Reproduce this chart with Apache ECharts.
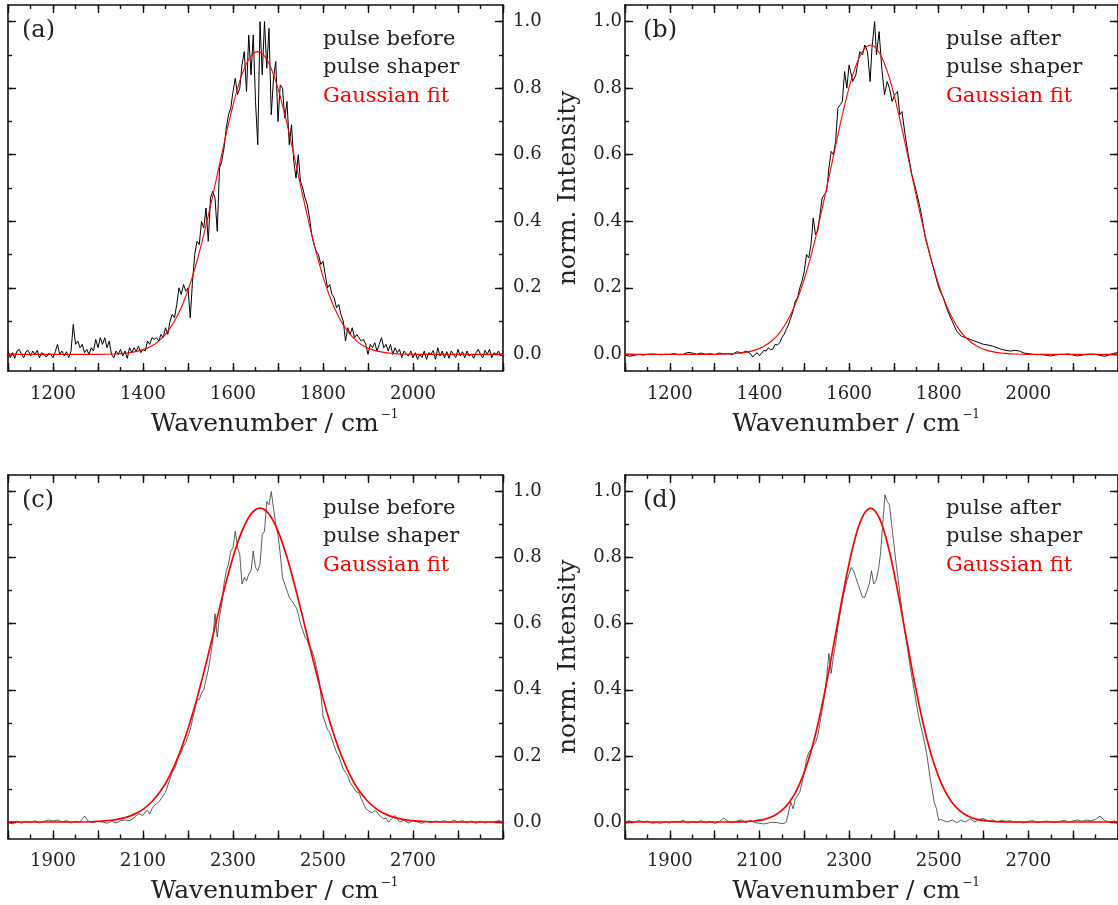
<!DOCTYPE html>
<html><head><meta charset="utf-8">
<script src="https://cdn.jsdelivr.net/npm/echarts@6/dist/echarts.min.js"></script>
<style>html,body{margin:0;padding:0;background:#fff}#c{width:1118px;height:905px}</style>
</head><body><div id="c"></div>
<script>
// ---------- data ----------
const blackA = [[1100,0.01],[1105,-0.01],[1110,0.005],[1115,-0.012],[1120,0.01],[1125,0.015],[1130,0.0],[1135,-0.01],[1140,0.008],[1145,0.012],[1150,-0.005],[1155,0.01],[1160,0.0],[1165,0.012],[1170,-0.01],[1175,0.005],[1180,0.0],[1185,-0.008],[1190,0.003],[1195,0.0],[1200,-0.01],[1205,0.008],[1210,0.03],[1215,0.0],[1220,0.01],[1225,-0.005],[1230,0.008],[1235,-0.01],[1240,0.01],[1245,0.09],[1250,0.03],[1255,0.04],[1260,0.02],[1265,0.03],[1270,0.005],[1275,0.015],[1280,0.0],[1285,0.02],[1290,0.01],[1295,0.045],[1300,0.02],[1305,0.05],[1310,0.03],[1315,0.05],[1320,0.02],[1325,0.04],[1330,0.0],[1335,-0.01],[1340,0.01],[1345,0.0],[1350,0.015],[1355,-0.005],[1360,0.01],[1365,-0.012],[1370,0.02],[1375,0.005],[1380,0.02],[1385,0.01],[1390,0.025],[1395,0.005],[1400,0.015],[1405,0.01],[1410,0.04],[1415,0.03],[1420,0.05],[1425,0.045],[1430,0.05],[1435,0.04],[1440,0.06],[1445,0.05],[1450,0.08],[1455,0.06],[1460,0.1],[1465,0.12],[1470,0.11],[1475,0.15],[1480,0.2],[1485,0.18],[1490,0.21],[1495,0.19],[1500,0.2],[1505,0.11],[1510,0.22],[1515,0.3],[1520,0.34],[1525,0.33],[1530,0.4],[1535,0.38],[1540,0.44],[1545,0.34],[1550,0.47],[1555,0.49],[1560,0.47],[1565,0.37],[1570,0.56],[1575,0.58],[1580,0.62],[1585,0.68],[1590,0.72],[1595,0.74],[1600,0.79],[1605,0.83],[1610,0.78],[1615,0.8],[1620,0.87],[1625,0.91],[1630,0.79],[1635,0.96],[1640,0.84],[1645,0.96],[1650,0.76],[1655,0.63],[1660,1.0],[1665,0.84],[1670,1.0],[1675,0.86],[1680,0.98],[1685,0.72],[1690,0.83],[1695,0.88],[1700,0.7],[1705,0.81],[1710,0.8],[1715,0.71],[1720,0.76],[1725,0.63],[1730,0.69],[1735,0.58],[1740,0.53],[1745,0.6],[1750,0.52],[1755,0.5],[1760,0.47],[1765,0.45],[1770,0.41],[1775,0.36],[1780,0.33],[1785,0.31],[1790,0.3],[1795,0.27],[1800,0.28],[1805,0.24],[1810,0.2],[1815,0.21],[1820,0.18],[1825,0.17],[1830,0.14],[1835,0.15],[1840,0.12],[1845,0.1],[1850,0.04],[1855,0.08],[1860,0.06],[1865,0.08],[1870,0.05],[1875,0.06],[1880,0.05],[1885,0.04],[1890,0.045],[1895,0.03],[1900,0.0],[1905,0.03],[1910,0.02],[1915,0.035],[1920,0.01],[1925,0.03],[1930,0.05],[1935,0.02],[1940,0.03],[1945,0.01],[1950,0.03],[1955,0.0],[1960,0.02],[1965,0.005],[1970,0.015],[1975,-0.01],[1980,0.01],[1985,0.0],[1990,-0.005],[1995,0.01],[2000,-0.01],[2005,0.005],[2010,-0.015],[2015,0.0],[2020,-0.01],[2025,0.01],[2030,-0.015],[2035,0.005],[2040,0.0],[2045,0.012],[2050,-0.015],[2055,0.02],[2060,-0.005],[2065,0.01],[2070,-0.01],[2075,0.008],[2080,-0.012],[2085,0.01],[2090,0.0],[2095,-0.01],[2100,0.015],[2105,-0.005],[2110,0.008],[2115,-0.01],[2120,0.01],[2125,-0.005],[2130,0.0],[2135,-0.012],[2140,0.005],[2145,0.015],[2150,0.0],[2155,-0.01],[2160,0.012],[2165,0.0],[2170,0.015],[2175,-0.01],[2180,0.005],[2185,0.0],[2190,0.01],[2195,-0.005],[2200,0.005]];
const redA = [[1100,0],[1300,0],[1335,0.001],[1355,0.003],[1375,0.006],[1395,0.012],[1415,0.022],[1435,0.040],[1455,0.069],[1475,0.112],[1495,0.174],[1515,0.257],[1535,0.359],[1555,0.477],[1575,0.602],[1595,0.721],[1615,0.821],[1635,0.887],[1655,0.91],[1675,0.887],[1695,0.821],[1715,0.721],[1735,0.602],[1755,0.477],[1775,0.359],[1795,0.257],[1815,0.174],[1835,0.112],[1855,0.069],[1875,0.040],[1895,0.022],[1915,0.012],[1935,0.006],[1955,0.003],[1975,0.001],[2010,0],[2200,0]];

const blackB = [[1100,-0.002],[1110,-0.006],[1120,-0.003],[1130,0.0],[1140,-0.002],[1150,0.0],[1160,0.001],[1170,0.0],[1180,-0.001],[1190,0.0],[1200,0.0],[1210,0.002],[1220,-0.001],[1230,0.0],[1240,0.006],[1250,0.004],[1260,0.0],[1270,0.004],[1280,0.0],[1290,0.002],[1300,-0.001],[1310,0.004],[1320,0.001],[1330,0.002],[1340,0.0],[1350,0.008],[1360,0.004],[1370,0.01],[1380,0.002],[1385,-0.008],[1390,0.0],[1395,0.005],[1400,-0.004],[1405,0.004],[1410,0.012],[1415,0.01],[1420,0.02],[1425,0.014],[1430,0.016],[1435,0.03],[1440,0.028],[1445,0.035],[1450,0.05],[1455,0.06],[1460,0.075],[1465,0.09],[1470,0.11],[1475,0.13],[1480,0.16],[1485,0.17],[1490,0.2],[1495,0.22],[1500,0.25],[1505,0.3],[1510,0.29],[1515,0.33],[1520,0.41],[1525,0.36],[1530,0.37],[1535,0.42],[1540,0.47],[1545,0.48],[1550,0.49],[1555,0.56],[1560,0.61],[1565,0.6],[1570,0.64],[1575,0.74],[1580,0.75],[1585,0.76],[1590,0.85],[1595,0.8],[1600,0.87],[1605,0.84],[1608,0.82],[1615,0.84],[1620,0.88],[1624,0.91],[1630,0.9],[1635,0.93],[1641,0.91],[1647,0.82],[1651,0.92],[1657,1.0],[1661,0.9],[1667,0.97],[1673,0.86],[1679,0.78],[1685,0.82],[1690,0.8],[1696,0.76],[1702,0.78],[1708,0.79],[1713,0.72],[1718,0.73],[1725,0.66],[1732,0.6],[1740,0.54],[1750,0.49],[1760,0.43],[1770,0.35],[1780,0.3],[1790,0.25],[1800,0.2],[1810,0.17],[1820,0.13],[1830,0.1],[1840,0.07],[1850,0.055],[1860,0.05],[1870,0.045],[1880,0.04],[1890,0.035],[1900,0.03],[1910,0.028],[1920,0.025],[1930,0.02],[1940,0.015],[1950,0.012],[1960,0.01],[1970,0.012],[1980,0.01],[1990,0.004],[2000,0.002],[2010,0.0],[2020,-0.001],[2030,0.0],[2040,-0.003],[2050,-0.005],[2060,-0.002],[2070,0.0],[2080,0.0],[2090,0.001],[2100,-0.002],[2110,-0.005],[2120,-0.002],[2130,0.0],[2140,0.001],[2150,0.0],[2160,-0.003],[2170,-0.006],[2180,-0.002],[2190,0.003],[2200,0.005]];
const redB = [[1100,0],[1300,0],[1328,0.001],[1348,0.003],[1368,0.006],[1388,0.012],[1408,0.023],[1428,0.041],[1448,0.070],[1468,0.115],[1488,0.178],[1508,0.262],[1528,0.367],[1548,0.488],[1568,0.615],[1588,0.737],[1608,0.839],[1628,0.906],[1648,0.93],[1668,0.906],[1688,0.839],[1708,0.737],[1728,0.615],[1748,0.488],[1768,0.367],[1788,0.262],[1808,0.178],[1828,0.115],[1848,0.070],[1868,0.041],[1888,0.023],[1908,0.012],[1928,0.006],[1948,0.003],[1968,0.001],[2000,0],[2200,0]];

const blackC = [[1800,0.0],[1810,-0.006],[1820,0.003],[1830,-0.004],[1840,0.002],[1850,-0.002],[1860,0.004],[1870,-0.003],[1880,0.002],[1890,0.006],[1900,0.003],[1910,0.006],[1920,0.0],[1930,0.004],[1940,-0.003],[1950,0.002],[1960,0.0],[1970,0.018],[1980,0.0],[1990,-0.002],[2000,0.002],[2010,0.0],[2020,-0.004],[2030,0.002],[2040,-0.003],[2050,0.004],[2060,0.006],[2070,0.004],[2080,0.012],[2090,0.025],[2100,0.02],[2105,0.03],[2110,0.035],[2115,0.025],[2120,0.04],[2125,0.05],[2130,0.055],[2135,0.06],[2140,0.07],[2145,0.08],[2150,0.09],[2155,0.11],[2160,0.13],[2165,0.15],[2170,0.16],[2175,0.18],[2180,0.2],[2185,0.21],[2190,0.23],[2195,0.24],[2200,0.26],[2205,0.28],[2210,0.31],[2215,0.34],[2220,0.37],[2225,0.37],[2230,0.39],[2235,0.4],[2240,0.43],[2245,0.46],[2250,0.5],[2255,0.55],[2260,0.63],[2265,0.56],[2270,0.62],[2275,0.66],[2280,0.72],[2285,0.76],[2290,0.78],[2295,0.82],[2300,0.83],[2305,0.88],[2310,0.83],[2315,0.81],[2320,0.72],[2325,0.74],[2330,0.73],[2335,0.75],[2340,0.76],[2345,0.82],[2350,0.77],[2355,0.76],[2360,0.78],[2365,0.87],[2370,0.88],[2375,0.97],[2380,0.96],[2385,1.0],[2390,0.95],[2395,0.9],[2400,0.87],[2405,0.81],[2410,0.74],[2415,0.72],[2420,0.7],[2425,0.68],[2430,0.67],[2435,0.66],[2440,0.65],[2445,0.63],[2450,0.6],[2455,0.58],[2460,0.56],[2465,0.55],[2470,0.53],[2475,0.52],[2480,0.5],[2485,0.47],[2490,0.44],[2495,0.39],[2500,0.32],[2505,0.3],[2510,0.28],[2515,0.27],[2520,0.25],[2525,0.23],[2530,0.21],[2535,0.2],[2540,0.18],[2545,0.16],[2550,0.15],[2555,0.14],[2560,0.12],[2565,0.11],[2570,0.1],[2575,0.09],[2580,0.09],[2585,0.07],[2590,0.055],[2595,0.04],[2600,0.035],[2605,0.03],[2610,0.028],[2615,0.035],[2620,0.03],[2625,0.02],[2630,0.015],[2635,0.01],[2640,0.012],[2645,0.0],[2650,0.005],[2660,0.02],[2670,0.0],[2680,0.005],[2690,-0.003],[2700,0.004],[2710,0.0],[2720,-0.004],[2730,0.002],[2740,-0.002],[2750,0.003],[2760,0.0],[2770,0.004],[2780,-0.002],[2790,0.005],[2800,0.0],[2810,0.004],[2820,-0.003],[2830,0.003],[2840,-0.004],[2850,0.002],[2860,-0.003],[2870,0.0],[2880,-0.002],[2890,0.005],[2900,0.0]];
const redC = [[1800,0],[1960,0],[2000,0.002],[2020,0.004],[2040,0.007],[2060,0.013],[2080,0.023],[2100,0.038],[2120,0.062],[2140,0.095],[2160,0.142],[2180,0.204],[2200,0.282],[2220,0.374],[2240,0.479],[2260,0.591],[2280,0.701],[2300,0.801],[2320,0.880],[2340,0.932],[2360,0.95],[2380,0.932],[2400,0.880],[2420,0.801],[2440,0.701],[2460,0.591],[2480,0.479],[2500,0.374],[2520,0.282],[2540,0.204],[2560,0.142],[2580,0.095],[2600,0.062],[2620,0.038],[2640,0.023],[2660,0.013],[2680,0.007],[2700,0.004],[2720,0.002],[2760,0],[2900,0]];

const blackD = [[1800,0.0],[1810,0.004],[1820,-0.003],[1830,0.005],[1840,0.0],[1850,0.003],[1860,-0.004],[1870,-0.002],[1880,-0.004],[1890,0.0],[1900,-0.003],[1910,0.002],[1920,0.0],[1930,0.005],[1940,-0.003],[1950,0.0],[1960,-0.002],[1970,0.004],[1980,-0.003],[1990,0.002],[2000,-0.004],[2010,0.0],[2020,0.012],[2030,0.002],[2040,-0.002],[2050,0.003],[2060,0.006],[2070,-0.002],[2080,0.005],[2090,-0.002],[2100,-0.004],[2110,-0.006],[2120,-0.003],[2130,-0.001],[2140,-0.002],[2150,-0.005],[2155,-0.004],[2160,0.0],[2165,0.03],[2170,0.06],[2175,0.04],[2180,0.07],[2185,0.08],[2190,0.09],[2195,0.12],[2200,0.15],[2205,0.19],[2210,0.21],[2215,0.22],[2220,0.23],[2225,0.24],[2230,0.26],[2235,0.3],[2240,0.34],[2245,0.38],[2250,0.44],[2255,0.51],[2260,0.45],[2265,0.5],[2270,0.54],[2275,0.59],[2280,0.63],[2285,0.67],[2290,0.7],[2295,0.73],[2300,0.75],[2305,0.77],[2310,0.76],[2315,0.74],[2320,0.72],[2325,0.7],[2330,0.68],[2335,0.68],[2340,0.7],[2345,0.72],[2350,0.76],[2355,0.72],[2360,0.73],[2365,0.76],[2370,0.81],[2375,0.9],[2380,0.99],[2385,0.97],[2390,0.96],[2395,0.9],[2400,0.84],[2405,0.78],[2410,0.73],[2415,0.67],[2420,0.62],[2425,0.57],[2430,0.53],[2435,0.48],[2440,0.44],[2445,0.4],[2450,0.36],[2455,0.32],[2460,0.29],[2465,0.26],[2470,0.23],[2475,0.19],[2480,0.14],[2485,0.1],[2490,0.06],[2495,0.04],[2500,0.005],[2505,0.008],[2510,0.004],[2520,0.0],[2530,0.006],[2540,-0.002],[2550,0.005],[2560,0.0],[2570,0.01],[2580,0.0],[2590,0.008],[2600,0.01],[2610,0.004],[2620,0.006],[2630,0.0],[2640,0.005],[2650,0.002],[2660,0.004],[2670,-0.002],[2680,0.0],[2690,-0.003],[2700,0.002],[2710,0.004],[2720,-0.002],[2730,0.0],[2740,0.003],[2750,0.0],[2760,-0.002],[2770,0.002],[2780,0.005],[2790,0.0],[2800,0.003],[2810,0.006],[2820,0.002],[2830,0.006],[2840,0.003],[2850,0.008],[2860,0.018],[2870,0.004],[2880,0.0],[2890,0.003],[2900,0.0]];
const redD = [[1800,0],[2048,0],[2068,0.001],[2088,0.003],[2108,0.007],[2128,0.016],[2148,0.033],[2168,0.062],[2188,0.110],[2208,0.182],[2228,0.282],[2248,0.409],[2268,0.554],[2288,0.701],[2308,0.830],[2328,0.918],[2348,0.95],[2368,0.918],[2388,0.830],[2408,0.701],[2428,0.554],[2448,0.409],[2468,0.282],[2488,0.182],[2508,0.110],[2528,0.062],[2548,0.033],[2568,0.016],[2588,0.007],[2608,0.003],[2628,0.001],[2648,0],[2900,0]];

// tick / label values
const xMajorTop = [1100,1200,1300,1400,1500,1600,1700,1800,1900,2000,2100,2200];
const xMinorTop = [1100,1150,1200,1250,1300,1350,1400,1450,1500,1550,1600,1650,1700,1750,1800,1850,1900,1950,2000,2050,2100,2150,2200];
const xLabelsTop = [1200,1400,1600,1800,2000];
const xMajorBot = [1800,1900,2000,2100,2200,2300,2400,2500,2600,2700,2800,2900];
const xMinorBot = [1800,1850,1900,1950,2000,2050,2100,2150,2200,2250,2300,2350,2400,2450,2500,2550,2600,2650,2700,2750,2800,2850,2900];
const xLabelsBot = [1900,2100,2300,2500,2700];
const yMajor = [0,0.2,0.4,0.6,0.8,1.0];
const yMinor = [0,0.1,0.2,0.3,0.4,0.5,0.6,0.7,0.8,0.9,1.0];
const yLabels = [0,0.2,0.4,0.6,0.8,1.0];

// ---------- chart ----------
const FONT = 'DejaVu Serif';
const TXT = '#222';
const panels = [
  {grid:{left:8,top:5,width:495,height:366}, black:blackA, red:redA, bName:'pulse before\npulse shaper', xmin:1100, xmax:2200,
   xMaj:xMajorTop, xMin:xMinorTop, xLab:xLabelsTop, ySide:'right', tag:'(a)', tagPos:[22,19], legPos:[318,25], namePad:[0,0,0,38], bW:1, bC:'#000', rW:1.1},
  {grid:{left:625,top:5,width:495,height:366}, black:blackB, red:redB, bName:'pulse after\npulse shaper', xmin:1100, xmax:2200,
   xMaj:xMajorTop, xMin:xMinorTop, xLab:xLabelsTop, ySide:'left', tag:'(b)', tagPos:[643,19], legPos:[941,25], namePad:[0,31,0,0], bW:1, bC:'#000', rW:1.1},
  {grid:{left:8,top:475,width:495,height:366}, black:blackC, red:redC, bName:'pulse before\npulse shaper', xmin:1800, xmax:2900,
   xMaj:xMajorBot, xMin:xMinorBot, xLab:xLabelsBot, ySide:'right', tag:'(c)', tagPos:[22,489], legPos:[318,494], namePad:[0,0,0,38], bW:0.8, bC:'#333', rW:1.7},
  {grid:{left:625,top:475,width:495,height:366}, black:blackD, red:redD, bName:'pulse after\npulse shaper', xmin:1800, xmax:2900,
   xMaj:xMajorBot, xMin:xMinorBot, xLab:xLabelsBot, ySide:'left', tag:'(d)', tagPos:[643,489], legPos:[941,494], namePad:[0,31,0,0], bW:0.8, bC:'#333', rW:1.7}
];

const lineStyle = {color:'#111', width:1.6};
const grids=[], xAxes=[], yAxes=[], series=[], legends=[], titles=[];
panels.forEach((p, gi) => {
  grids.push(Object.assign({containLabel:false}, p.grid));
  const base = {type:'value', gridIndex:gi, min:p.xmin, max:p.xmax, splitLine:{show:false}, axisLabel:{show:false}};
  xAxes.push(Object.assign({}, base, {
    position:'bottom', axisLine:{show:true, onZero:false, lineStyle},
    axisTick:{show:true, inside:true, length:8, customValues:p.xMaj, lineStyle:{color:'#111', width:1.4}},
    axisLabel:{show:true, customValues:p.xLab, margin:14, color:TXT, fontFamily:FONT, fontSize:18, formatter:v=>String(v)},
    name:'{t|Wavenumber / cm}{s|−1}', nameLocation:'middle', nameGap:38,
    nameTextStyle:{padding:p.namePad, rich:{t:{fontFamily:FONT, fontSize:25, color:TXT, lineHeight:30}, s:{fontFamily:FONT, fontSize:12, color:TXT, verticalAlign:'top', lineHeight:12, padding:[0,0,0,2]}}}
  }));
  xAxes.push(Object.assign({}, base, {position:'bottom', axisLine:{show:false, onZero:false},
    axisTick:{show:true, inside:true, length:4, customValues:p.xMin, lineStyle:{color:'#111', width:1.4}}}));
  xAxes.push(Object.assign({}, base, {position:'top', axisLine:{show:true, onZero:false, lineStyle},
    axisTick:{show:true, inside:true, length:8, customValues:p.xMaj, lineStyle:{color:'#111', width:1.4}}}));
  xAxes.push(Object.assign({}, base, {position:'top', axisLine:{show:false, onZero:false},
    axisTick:{show:true, inside:true, length:4, customValues:p.xMin, lineStyle:{color:'#111', width:1.4}}}));

  const ybase = {type:'value', gridIndex:gi, min:-0.05, max:1.05, splitLine:{show:false}, axisLabel:{show:false}};
  ['left','right'].forEach(side => {
    const withLabels = side === p.ySide;
    const major = Object.assign({}, ybase, {position:side, axisLine:{show:true, onZero:false, lineStyle},
      axisTick:{show:true, inside:true, length:8, customValues:yMajor, lineStyle:{color:'#111', width:1.4}}});
    if (withLabels) {
      major.axisLabel = {show:true, customValues:yLabels, margin: side==='right'?10:3, color:TXT, fontFamily:FONT, fontSize:18, formatter:v=>v.toFixed(1)};
    }
    if (side === 'left' && p.ySide === 'left') {
      major.name = 'norm. Intensity';
      major.nameLocation = 'middle';
      major.nameRotate = 90;
      major.nameGap = 44;
      major.nameTextStyle = {fontFamily:FONT, fontSize:25, color:TXT};
    }
    yAxes.push(major);
    yAxes.push(Object.assign({}, ybase, {position:side, axisLine:{show:false, onZero:false},
      axisTick:{show:true, inside:true, length:4, customValues:yMinor, lineStyle:{color:'#111', width:1.4}}}));
  });

  const xi = gi*4, yi = gi*4;
  series.push({type:'line', name:p.bName, xAxisIndex:xi, yAxisIndex:yi, data:p.black, showSymbol:false, symbol:'none',
    lineStyle:{color:p.bC, width:p.bW}, itemStyle:{color:p.bC}, clip:true, z:2});
  series.push({type:'line', name:'Gaussian fit', xAxisIndex:xi, yAxisIndex:yi, data:p.red, showSymbol:false, symbol:'none', smooth:0.35,
    lineStyle:{color:'#ff0000', width:p.rW}, itemStyle:{color:'#ff0000'}, clip:true, z:3});

  legends.push({orient:'vertical', left:p.legPos[0], top:p.legPos[1], padding:0, itemGap:0, itemWidth:0, itemHeight:10, icon:'none', selectedMode:false,
    textStyle:{fontFamily:FONT, fontSize:21, lineHeight:28.5, color:TXT},
    data:[{name:p.bName, textStyle:{color:TXT}}, {name:'Gaussian fit', textStyle:{color:'#ff0000'}}]});
  titles.push({text:p.tag, left:p.tagPos[0], top:p.tagPos[1], padding:0, textStyle:{fontFamily:FONT, fontSize:24, fontWeight:'normal', color:TXT}});
});

const chart = echarts.init(document.getElementById('c'), null, {renderer:'canvas'});
chart.setOption({animation:false, backgroundColor:'#fff', title:titles, legend:legends, grid:grids, xAxis:xAxes, yAxis:yAxes, series});
</script></body></html>
